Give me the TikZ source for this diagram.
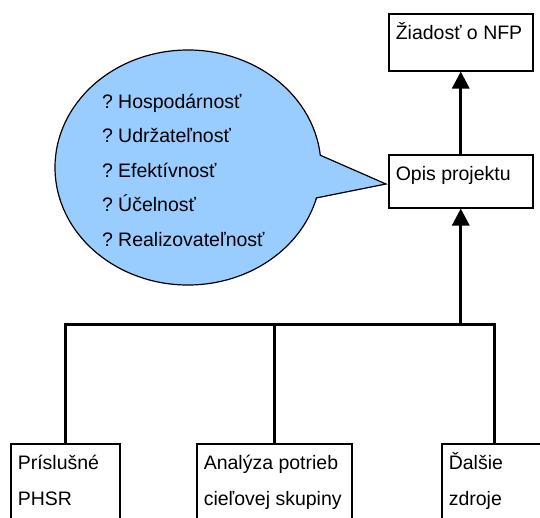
\documentclass[tikz,border=0pt]{standalone}
\usepackage{fontspec}
\setmainfont{Liberation Sans}
\usetikzlibrary{arrows.meta}

\definecolor{bubbleblue}{RGB}{153,204,255}

% text of a box: fixed width and height, lines hang from the top
\newcommand{\boxtext}[3]{\parbox[t][#2][t]{#1}{\fontsize{19.5}{36}\selectfont
  \raggedright\leftskip=7pt\rule{0pt}{26pt}#3}}

\tikzset{
  box/.style={draw, line width=1.5pt, anchor=north west, inner sep=0pt},
  link/.style={line width=3pt},
  uplink/.style={link, -{Triangle[width=17pt,length=17pt]}},
  bubble/.style={fill=bubbleblue, draw=black, line width=1.2pt},
  question/.style={anchor=base west, inner sep=0pt,
                   font=\fontsize{19.5}{24}\selectfont},
}

\begin{document}
\begin{tikzpicture}[x=1pt,y=-1pt]
\useasboundingbox (0,0) rectangle (540,517);

% The two boxes on the right
\node[box] (ziadost) at (388,13)  {\boxtext{144pt}{57pt}{Žiadosť o NFP}};
\node[box] (opis)    at (388,154) {\boxtext{144pt}{53pt}{Opis projektu}};

% The three sources at the bottom (cut by the page)
\node[box] (phsr)    at (10,443)  {\boxtext{109pt}{120pt}{Príslušné\\PHSR}};
\node[box] (analyza) at (196,443) {\boxtext{155pt}{120pt}{Analýza potrieb\\cieľovej skupiny}};
\node[box] (zdroje)  at (441,443) {\boxtext{106pt}{120pt}{Ďalšie\\zdroje}};

% The collecting line
\coordinate (bus) at (opis.south |- 0,324);

% The speech bubble pointing at the project description
\coordinate (bubblec) at (188,167.5);
\coordinate (tip)     at (386,184);
\filldraw[bubble] (bubblec) ++(-6:133 and 117.5)
  arc[start angle=-6, end angle=-345, x radius=133, y radius=117.5]
  -- (tip) -- cycle;

% The questions inside the bubble
\foreach \q [count=\i] in {Hospodárnosť,Udržateľnosť,Efektívnosť,Účelnosť,Realizovateľnosť}
  \node[question] (q\i) at (102,{73.5+34.5*\i}) {\makebox[16pt][l]{?}\q};

% Connectors
\draw[uplink] (opis.north) -- (ziadost.south);
\draw[uplink] (bus) -- (opis.south);
\draw[link] (phsr.north) -- (phsr.north |- bus)
            -- (zdroje.north |- bus) -- (zdroje.north);
\draw[link] (analyza.north) -- (analyza.north |- bus);
\end{tikzpicture}
\end{document}
